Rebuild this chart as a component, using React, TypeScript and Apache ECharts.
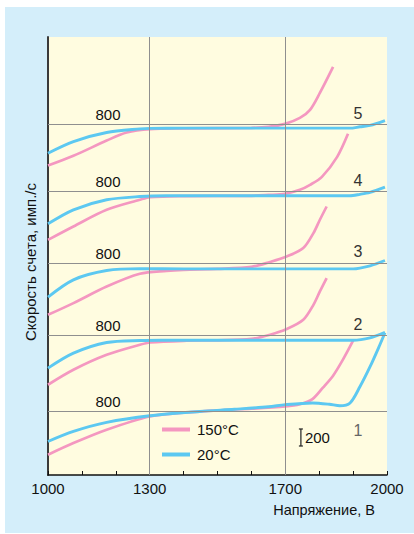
import React, { useEffect, useRef } from 'react';
import * as echarts from 'echarts';

// ---- data ----
const xTickLabels = [1000, 1300, 1700, 2000];
const gridVoltages = [1300, 1700];
const curveNames = ['1', '2', '3', '4', '5'];
// vertical shift of each curve (counts) so curves are stacked
const curveOffsets = [-53, 845, 1695, 2538, 3323];
const baseLevel = 800;
const scaleBar = [1746, 341, 541]; // voltage, from, to (200 counts)
const scaleLabel = '200';
const xName = 'Напряжение, В';
const yName = 'Скорость счета, имп./с';
const hotName = '150°C';
const coldName = '20°C';

// curve 1
const hot1 = [[1000, 291], [1075, 428], [1173, 585], [1300, 741], [1400, 785], [1500, 814], [1600, 832], [1700, 859], [1743, 885], [1780, 945], [1811, 1080], [1841, 1221], [1870, 1409], [1900, 1632]];
const cold1 = [[1000, 447], [1075, 565], [1173, 671], [1300, 749], [1448, 800], [1550, 826], [1650, 855], [1700, 880], [1780, 900], [1830, 885], [1861, 867], [1891, 900], [1920, 1090], [1950, 1326], [1979, 1584], [1994, 1725]];
// curve 2
const hot2 = [[1000, 216], [1075, 392], [1173, 568], [1271, 686], [1301, 713], [1400, 733], [1500, 739], [1600, 755], [1655, 804], [1704, 871], [1753, 980], [1783, 1156], [1802, 1313], [1822, 1470]];
const cold2 = [[1000, 412], [1075, 588], [1173, 713], [1271, 736], [1350, 739], [1500, 740], [1700, 740], [1900, 740], [1950, 768], [1994, 831]];
// curve 3
const hot3 = [[1000, 188], [1075, 326], [1173, 521], [1271, 671], [1350, 706], [1400, 718], [1500, 729], [1600, 752], [1655, 810], [1704, 874], [1753, 973], [1783, 1149], [1802, 1306], [1822, 1462]];
const cold3 = [[1000, 397], [1075, 600], [1173, 709], [1271, 732], [1400, 729], [1600, 729], [1900, 729], [1950, 765], [1994, 827]];
// curve 4
const hot4 = [[1000, 227], [1075, 384], [1173, 580], [1271, 698], [1301, 729], [1400, 741], [1600, 745], [1650, 755], [1699, 768], [1743, 815], [1773, 874], [1808, 968], [1853, 1203], [1885, 1474]];
const cold4 = [[1000, 415], [1075, 580], [1173, 698], [1271, 736], [1350, 745], [1600, 745], [1890, 745], [1920, 762], [1950, 786], [1994, 847]];
// curve 5
const hot5 = [[1000, 315], [1075, 430], [1173, 609], [1232, 704], [1301, 744], [1400, 753], [1600, 759], [1650, 771], [1699, 806], [1743, 876], [1773, 971], [1802, 1170], [1841, 1476]];
const cold5 = [[1000, 461], [1075, 598], [1173, 704], [1271, 747], [1301, 753], [1400, 755], [1890, 755], [1920, 771], [1950, 788], [1994, 845]];

const hotCurves = [hot1, hot2, hot3, hot4, hot5];
const coldCurves = [cold1, cold2, cold3, cold4, cold5];

// label anchor voltages
const levelLabelVoltage = 1177;
const curveLabelVoltage = 1914;

const FONT = "'Liberation Sans', Arial, Helvetica, sans-serif";
const PINK = '#F497C0';
const BLUE = '#5CC8F1';

export default function App() {
  const ref = useRef<HTMLDivElement>(null);
  useEffect(() => {
    if (!ref.current) return;
    const chart = echarts.init(ref.current, undefined, { renderer: 'svg' });

    const series: any[] = [];
    // reference lines
    series.push({
      type: 'line',
      name: 'refs',
      data: [],
      z: 1,
      silent: true,
      markLine: {
        silent: true,
        symbol: ['none', 'none'],
        label: { show: false },
        lineStyle: { color: '#8f8f8f', width: 1, type: 'solid' },
        data: [
          ...curveOffsets.map((o) => ({ yAxis: o + baseLevel })),
          ...gridVoltages.map((v) => ({ xAxis: v })),
        ],
      },
    });
    curveOffsets.forEach((off, i) => {
      series.push({
        type: 'line',
        name: hotName,
        data: hotCurves[i].map(([v, c]) => [v, c + off]),
        smooth: 0.3,
        showSymbol: false,
        symbol: 'none',
        lineStyle: { color: PINK, width: 2.7 },
        itemStyle: { color: PINK },
        z: 2,
      });
    });
    curveOffsets.forEach((off, i) => {
      series.push({
        type: 'line',
        name: coldName,
        data: coldCurves[i].map(([v, c]) => [v, c + off]),
        smooth: 0.3,
        showSymbol: false,
        symbol: 'none',
        lineStyle: { color: BLUE, width: 2.9 },
        itemStyle: { color: BLUE },
        z: 3,
        markPoint: {
          silent: true,
          symbol: 'circle',
          symbolSize: 0,
          data: [
            {
              coord: [levelLabelVoltage, off + baseLevel],
              label: {
                show: true,
                formatter: String(baseLevel),
                position: 'top',
                distance: 2,
                fontFamily: FONT,
                fontSize: 15,
                color: '#111',
              },
            },
            {
              coord: [curveLabelVoltage, off + baseLevel],
              label: {
                show: true,
                formatter: curveNames[i],
                position: i === 0 ? 'bottom' : 'top',
                distance: i === 0 ? 11 : 3,
                fontFamily: FONT,
                fontSize: 16,
                color: i === 0 ? '#666' : '#333',
              },
            },
          ],
        },
      });
    });
    series.push({
      type: 'custom',
      name: 'scale',
      data: [scaleBar],
      encode: { x: 0, y: [1, 2] },
      z: 4,
      renderItem: (params: any, api: any) => {
        const x = api.value(0);
        const p0 = api.coord([x, api.value(1)]);
        const p1 = api.coord([x, api.value(2)]);
        const st = { stroke: '#222', lineWidth: 1.2 };
        return {
          type: 'group',
          children: [
            { type: 'line', shape: { x1: p0[0], y1: p0[1], x2: p1[0], y2: p1[1] }, style: st },
            { type: 'line', shape: { x1: p0[0] - 2, y1: p0[1], x2: p0[0] + 2, y2: p0[1] }, style: st },
            { type: 'line', shape: { x1: p1[0] - 2, y1: p1[1], x2: p1[0] + 2, y2: p1[1] }, style: st },
            {
              type: 'text',
              style: {
                text: scaleLabel,
                x: p0[0] + 4,
                y: (p0[1] + p1[1]) / 2,
                verticalAlign: 'middle',
                align: 'left',
                fontSize: 15,
                fontFamily: FONT,
                fill: '#111',
              },
            },
          ],
        };
      },
    });

    chart.setOption({
      animation: false,
      backgroundColor: 'transparent',
      grid: {
        left: 48,
        top: 37,
        width: 339,
        height: 438,
        show: true,
        backgroundColor: '#FFFCE0',
        borderWidth: 0,
      },
      legend: {
        data: [hotName, coldName],
        orient: 'vertical',
        left: 162,
        top: 422,
        padding: 0,
        icon: 'rect',
        itemWidth: 28,
        itemHeight: 4,
        itemGap: 10,
        selectedMode: false,
        textStyle: { fontFamily: FONT, fontSize: 15, color: '#111', lineHeight: 15, padding: [0, 0, 0, 2] },
      },
      xAxis: {
        type: 'value',
        min: 1000,
        max: 2000,
        interval: 100,
        axisLine: { show: true, onZero: false, lineStyle: { color: '#111', width: 1.5 } },
        axisTick: { show: true, inside: true, length: 4, lineStyle: { color: '#111', width: 1 } },
        axisLabel: {
          formatter: (v: number) => (xTickLabels.includes(v) ? String(v) : ''),
          fontFamily: FONT,
          fontSize: 15,
          color: '#111',
          margin: 6,
        },
        splitLine: { show: false },
      },
      yAxis: {
        type: 'value',
        min: 0,
        max: 5150,
        axisLine: { show: true, onZero: false, lineStyle: { color: '#3a3a3a', width: 2 } },
        axisTick: { show: false },
        axisLabel: { show: false },
        splitLine: { show: false },
      },
      graphic: [
        {
          type: 'text',
          x: 30,
          y: 262,
          rotation: Math.PI / 2,
          style: {
            text: yName,
            align: 'center',
            verticalAlign: 'middle',
            fontSize: 15,
            fontFamily: FONT,
            fill: '#111',
          },
        },
        {
          type: 'text',
          x: 375,
          y: 510,
          style: {
            text: xName,
            align: 'right',
            verticalAlign: 'middle',
            fontSize: 14.5,
            fontFamily: FONT,
            fill: '#111',
          },
        },
      ],
      series,
    });
    return () => chart.dispose();
  }, []);

  return (
    <div style={{ position: 'fixed', left: 0, top: 0, width: 414, height: 534, background: '#fff' }}>
      <div style={{ position: 'absolute', left: 5, top: 7, width: 409, height: 526, background: '#D4EEFA' }} />
      <div ref={ref} style={{ position: 'absolute', left: 0, top: 0, width: 414, height: 534 }} />
    </div>
  );
}
